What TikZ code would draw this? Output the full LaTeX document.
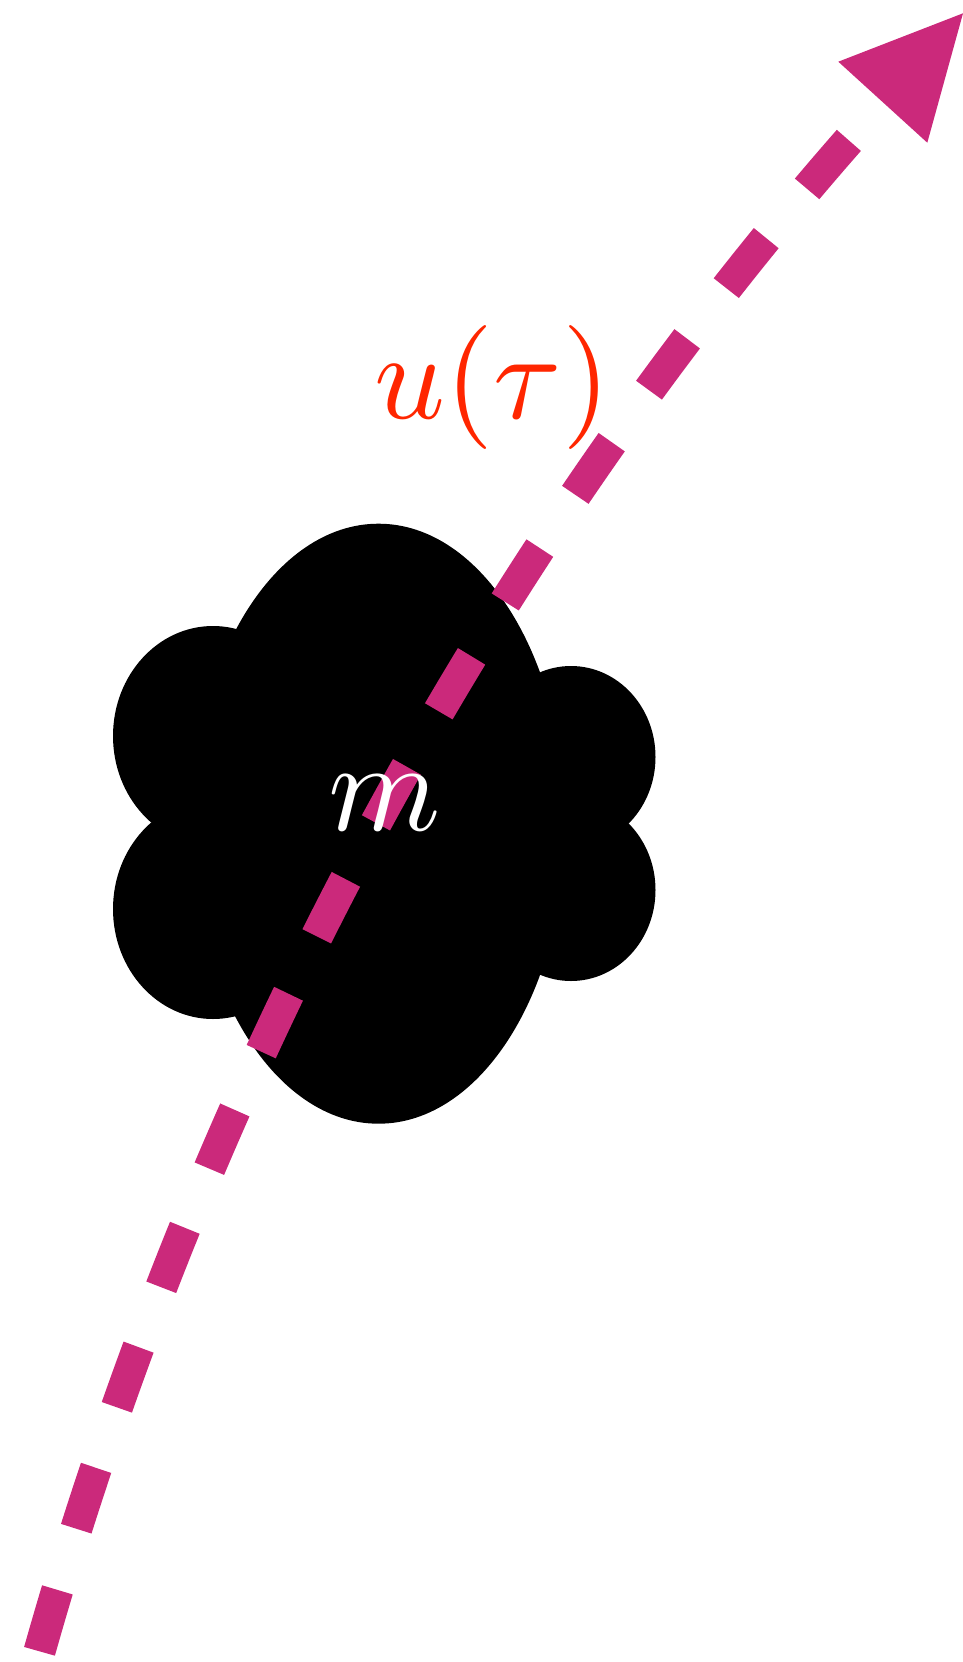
\documentclass[tikz,border=0pt]{standalone}
\definecolor{dashmag}{RGB}{203,41,123}
\definecolor{labred}{RGB}{255,38,0}
\tikzset{
  cloudpart/.style={fill=black},
  dashpath/.style={draw=dashmag, line width=32pt, dash pattern=on 64pt off 64pt, line cap=butt},
  headfill/.style={fill=dashmag},
  masstext/.style={inner sep=0pt, anchor=base, scale=12.8},
  labtext/.style={inner sep=0pt, anchor=base, scale=12.4}
}
\begin{document}
\begin{tikzpicture}[x=1pt,y=-1pt]
\useasboundingbox (0,0) rectangle (963,1662);
% cloud
\fill[cloudpart] (378.5,823.7) ellipse [x radius=187pt, y radius=300pt];
\fill[cloudpart] (213,736) ellipse [x radius=100pt, y radius=110pt];
\fill[cloudpart] (213,909) ellipse [x radius=100pt, y radius=110pt];
\fill[cloudpart] (571,757) ellipse [x radius=84.5pt, y radius=91pt];
\fill[cloudpart] (571,890) ellipse [x radius=84.5pt, y radius=91pt];
% world line
\coordinate (start) at (39.5,1651.3);
\coordinate (ca) at (200,1083.7);
\coordinate (cb) at (487.5,540);
\coordinate (end) at (882.8,102.2);
\coordinate (tip) at (963,13.3);
\coordinate (barbL) at (838.3,61.7);
\coordinate (barbR) at (927.3,142.7);
\draw[dashpath] (start) .. controls (ca) and (cb) .. (end);
\fill[headfill] (barbL) -- (tip) -- (barbR) -- cycle;
% labels
\node[masstext, text=white] (mass) at (385,830) {$m$};
\node[labtext, text=labred] (u) at (492.5,418) {$u(\tau)$};
\end{tikzpicture}
\end{document}
